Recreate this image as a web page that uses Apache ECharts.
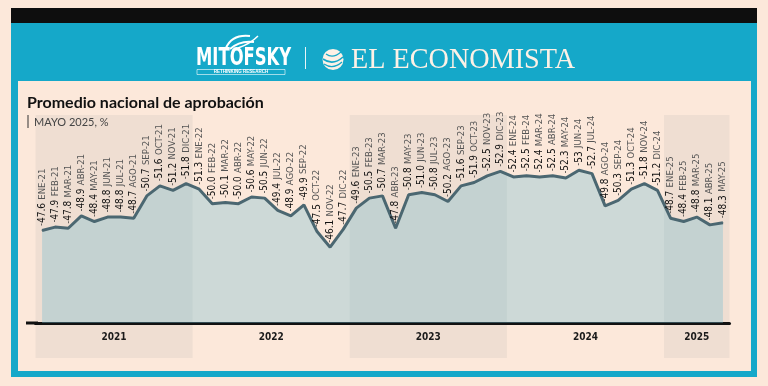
<!DOCTYPE html>
<html><head><meta charset="utf-8">
<script src="https://cdn.jsdelivr.net/npm/echarts@6/dist/echarts.min.js"></script>
<style>html,body{margin:0;padding:0;background:#FCE8DA}#c{width:768px;height:386px}</style>
</head><body><div id="c"></div>
<script>
const months = [
 'ENE-21','FEB-21','MAR-21','ABR-21','MAY-21','JUN-21','JUL-21','AGO-21','SEP-21','OCT-21','NOV-21','DIC-21',
 'ENE-22','FEB-22','MAR-22','ABR-22','MAY-22','JUN-22','JUL-22','AGO-22','SEP-22','OCT-22','NOV-22','DIC-22',
 'ENE-23','FEB-23','MAR-23','ABR-23','MAY-23','JUN-23','JUL-23','AGO-23','SEP-23','OCT-23','NOV-23','DIC-23',
 'ENE-24','FEB-24','MAR-24','ABR-24','MAY-24','JUN-24','JUL-24','AGO-24','SEP-24','OCT-24','NOV-24','DIC-24',
 'ENE-25','FEB-25','MAR-25','ABR-25','MAY-25'];
const values = [
 47.6,47.9,47.8,48.9,48.4,48.8,48.8,48.7,50.7,51.6,51.2,51.8,
 51.3,50.0,50.1,50.0,50.6,50.5,49.4,48.9,49.9,47.5,46.1,47.7,
 49.6,50.5,50.7,47.8,50.8,51.0,50.8,50.2,51.6,51.9,52.5,52.9,
 52.4,52.5,52.4,52.5,52.3,53,52.7,49.8,50.3,51.3,51.8,51.2,
 48.7,48.4,48.8,48.1,48.3];
const years = ['2021','2022','2023','2024','2025'];
const yearStart = [0,12,24,36,48];
const yearEnd = [12,24,36,48,53];

const narrow = "'Liberation Sans Narrow','DejaVu Sans Condensed',sans-serif";
const chart = echarts.init(document.getElementById('c'), null, {renderer:'canvas'});
const fmt = v => (v === 53 ? '53' : v.toFixed(1));

chart.setOption({
  backgroundColor: '#FCE8DA',
  animation: false,
  grid: [
    {left: 35.5, right: 38.5, top: 100, bottom: 63},
    {left: 35.5, right: 38.5, top: 115, bottom: 28}
  ],
  xAxis: [
    {type:'category', gridIndex:0, data: months, boundaryGap: true,
     axisLine:{show:true, lineStyle:{color:'#111', width:3}}, axisTick:{show:false}, axisLabel:{show:false}, splitLine:{show:false}},
    {type:'value', gridIndex:1, min:0, max:53, show:false}
  ],
  yAxis: [
    {type:'value', gridIndex:0, min:39.3, max:59.3, show:false, splitLine:{show:false}},
    {type:'value', gridIndex:1, min:0, max:1, show:false, splitLine:{show:false}}
  ],
  graphic: [
    {type:'rect', shape:{x:11, y:8, width:746, height:15.5}, style:{fill:'#0E0E0E'}, z:-10},
    {type:'rect', shape:{x:11, y:23, width:746, height:58}, style:{fill:'#15A8C9'}, z:-10},
    {type:'rect', shape:{x:11, y:23, width:7, height:354}, style:{fill:'#15A8C9'}, z:-10},
    {type:'rect', shape:{x:751, y:23, width:6, height:354}, style:{fill:'#15A8C9'}, z:-10},
    {type:'rect', shape:{x:11, y:371, width:746, height:6}, style:{fill:'#15A8C9'}, z:-10},
    // Mitofsky logo
    {type:'bezierCurve', shape:{x1:226,y1:48,x2:250,y2:36,cpx1:232,cpy1:34}, style:{stroke:'#fff', lineWidth:2, fill:null}},
    {type:'bezierCurve', shape:{x1:230,y1:49,x2:254,y2:42,cpx1:240,cpy1:40}, style:{stroke:'#fff', lineWidth:2, fill:null}},
    {type:'bezierCurve', shape:{x1:238,y1:48,x2:258,y2:36,cpx1:250,cpy1:44}, style:{stroke:'#fff', lineWidth:1.5, fill:null}},
    {type:'text', x:196, y:59, style:{text:'MITOFSKY', font:"bold 24px 'DejaVu Sans Condensed', sans-serif", fill:'#fff', verticalAlign:'middle'}, scaleX:0.76},
    {type:'rect', shape:{x:197, y:69.5, width:88, height:5}, style:{fill:null, stroke:'#fff', lineWidth:0.6}},
    {type:'text', x:241, y:72.2, style:{text:'RETHINKING RESEARCH', font:"bold 4.5px sans-serif", fill:'#fff', align:'center', verticalAlign:'middle'}},
    {type:'rect', shape:{x:305, y:47, width:1, height:22}, style:{fill:'#E9F4F7'}},
    // El Economista logo
    {type:'circle', shape:{cx:333, cy:59.5, r:10.5}, style:{fill:'#FDF1E6'}},
    {type:'bezierCurve', shape:{x1:323,y1:59,x2:343,y2:57,cpx1:333,cpy1:66}, style:{stroke:'#15A8C9', lineWidth:1.6, fill:null}},
    {type:'bezierCurve', shape:{x1:324,y1:64,x2:342,y2:62,cpx1:333,cpy1:70}, style:{stroke:'#15A8C9', lineWidth:1.3, fill:null}},
    {type:'bezierCurve', shape:{x1:326,y1:54,x2:341,y2:52,cpx1:333,cpy1:59}, style:{stroke:'#15A8C9', lineWidth:1.3, fill:null}},
    {type:'text', x:351, y:60, style:{text:'EL ECONOMISTA', font:"30px 'Liberation Serif', serif", fill:'#FDF1E6', verticalAlign:'middle'}, scaleX:0.94},
    // Titles
    {type:'text', x:27, y:103, z:100, style:{text:'Promedio nacional de aprobación', font:"bold 16px Lato, 'Open Sans', sans-serif", fill:'#111', verticalAlign:'middle'}},
    {type:'rect', shape:{x:27.5, y:115, width:1, height:13}, z:100, style:{fill:'#333'}},
    {type:'text', x:34, y:122, z:100, style:{text:'MAYO 2025, %', font:"11px Lato, sans-serif", fill:'#444', verticalAlign:'middle'}},
    {type:'rect', shape:{x:26, y:321.5, width:12, height:3}, z:100, style:{fill:'#111'}}
  ],
  series: [
    {
      type:'custom', xAxisIndex:1, yAxisIndex:1, z:0, silent:true,
      data: years.map((y,i)=>[yearStart[i], yearEnd[i], i]),
      renderItem: function(params, api){
        const s = api.value(0), e = api.value(1), idx = api.value(2);
        const p0 = api.coord([s,1]), p1 = api.coord([e,0]);
        const ch = [];
        if (idx % 2 === 0) ch.push({type:'rect', shape:{x:p0[0], y:p0[1], width:p1[0]-p0[0], height:p1[1]-p0[1]}, style:{fill:'#EFDED2'}});
        ch.push({type:'text', style:{text: years[idx], x:(p0[0]+p1[0])/2, y:p1[1]-21, align:'center', verticalAlign:'middle',
          font:"bold 10px 'DejaVu Sans Condensed', sans-serif", fill:'#1a1a1a'}});
        return {type:'group', children: ch};
      }
    },
    {
      type:'line', xAxisIndex:0, yAxisIndex:0, z:3, data: values,
      symbol:'circle', symbolSize:1, showSymbol:true, itemStyle:{color:'#4B6771'},
      lineStyle:{color:'#4B6771', width:3},
      areaStyle:{color:'rgba(118,188,210,0.35)', opacity:1},
      label:{
        show:true, position:'top', distance:4, rotate:90, align:'left', verticalAlign:'middle',
        formatter: p => '{t|-}{v|' + fmt(p.value) + '} {m|' + p.name + '}',
        rich:{
          t:{color:'#333', fontSize:9, fontFamily:narrow},
          v:{color:'#111', fontSize:10, fontFamily:narrow},
          m:{color:'#555', fontSize:9.5, fontFamily:narrow}
        }
      }
    }
  ]
});
</script></body></html>
